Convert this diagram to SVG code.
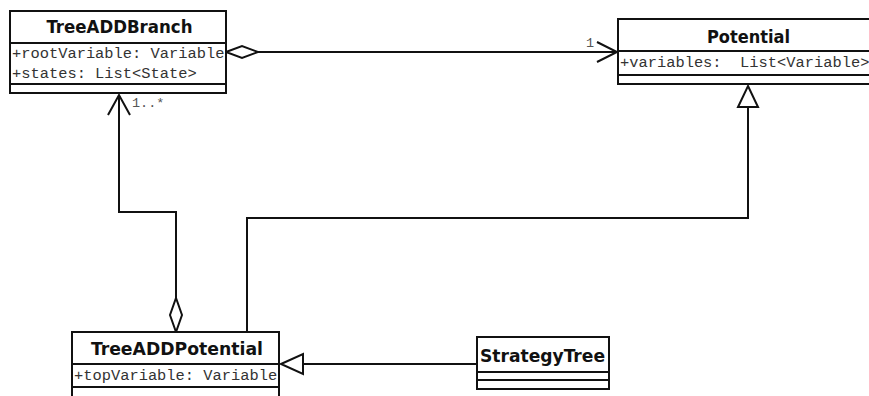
<svg xmlns="http://www.w3.org/2000/svg" width="869" height="396" viewBox="0 0 869 396">
  <style>
    .box { fill: #fff; stroke: #111; stroke-width: 2; }
    .sep { stroke: #111; stroke-width: 2; }
    .title { font-family: "DejaVu Sans Condensed", "DejaVu Sans", Verdana, sans-serif; font-stretch: condensed; font-weight: bold; font-size: 17.5px; fill: #111; text-anchor: middle; }
    .attr { font-family: "Liberation Mono", "Courier New", monospace; font-size: 15.4px; fill: #333; white-space: pre; }
    .mult { font-family: "Liberation Mono", "Courier New", monospace; font-size: 13.5px; fill: #555; }
    .edge { fill: none; stroke: #111; stroke-width: 2; }
    .hollow { fill: #fff; stroke: #111; stroke-width: 2; }
  </style>
  <rect width="869" height="396" fill="#fff"/>

  <!-- connectors -->
  <g id="connectors">
    <!-- TreeADDBranch aggregates Potential -->
    <line class="edge" x1="258" y1="52" x2="617" y2="52"/>
    <polygon class="hollow" points="226,52 242,46 258,52 242,58"/>
    <polyline class="edge" points="597,42 617,52 597,62"/>
    <text class="mult" x="586" y="47">1</text>

    <!-- TreeADDPotential aggregates TreeADDBranch -->
    <polyline class="edge" points="176,298 176,212 119,212 119,95"/>
    <polygon class="hollow" points="176,332 170,315 176,298 182,315"/>
    <polyline class="edge" points="108,115 119,95 130,115"/>
    <text class="mult" x="132" y="107">1..*</text>

    <!-- TreeADDPotential generalizes to Potential -->
    <polyline class="edge" points="247,332 247,218 748,218 748,107"/>
    <polygon class="hollow" points="748,86 758,107 738,107"/>

    <!-- StrategyTree generalizes to TreeADDPotential -->
    <line class="edge" x1="303" y1="364" x2="477" y2="364"/>
    <polygon class="hollow" points="281,364 303,354 303,374"/>
  </g>

  <g id="TreeADDBranch">
    <rect class="box" x="10" y="11" width="216" height="82"/>
    <line class="sep" x1="10" y1="43" x2="226" y2="43"/>
    <line class="sep" x1="10" y1="84" x2="226" y2="84"/>
    <text class="title" x="119.5" y="33" textLength="146" lengthAdjust="spacingAndGlyphs">TreeADDBranch</text>
    <text class="attr" x="12" y="58">+rootVariable: Variable</text>
    <text class="attr" x="12" y="78">+states: List&lt;State&gt;</text>
  </g>

  <g id="Potential">
    <rect class="box" x="618" y="19" width="262" height="65"/>
    <line class="sep" x1="618" y1="51" x2="880" y2="51"/>
    <line class="sep" x1="618" y1="75" x2="880" y2="75"/>
    <text class="title" x="748.5" y="43" textLength="83" lengthAdjust="spacingAndGlyphs">Potential</text>
    <text class="attr" x="620" y="67">+variables:&#160; List&lt;Variable&gt;</text>
  </g>

  <g id="TreeADDPotential">
    <rect class="box" x="72" y="332" width="207" height="70"/>
    <line class="sep" x1="72" y1="364" x2="279" y2="364"/>
    <line class="sep" x1="72" y1="387" x2="279" y2="387"/>
    <text class="title" x="177" y="355" textLength="172" lengthAdjust="spacingAndGlyphs">TreeADDPotential</text>
    <text class="attr" x="74" y="380">+topVariable: Variable</text>
  </g>

  <g id="StrategyTree">
    <rect class="box" x="477" y="337" width="132" height="52"/>
    <line class="sep" x1="477" y1="372" x2="609" y2="372"/>
    <line class="sep" x1="477" y1="380" x2="609" y2="380"/>
    <text class="title" x="542.5" y="362" textLength="125" lengthAdjust="spacingAndGlyphs">StrategyTree</text>
  </g>
</svg>
